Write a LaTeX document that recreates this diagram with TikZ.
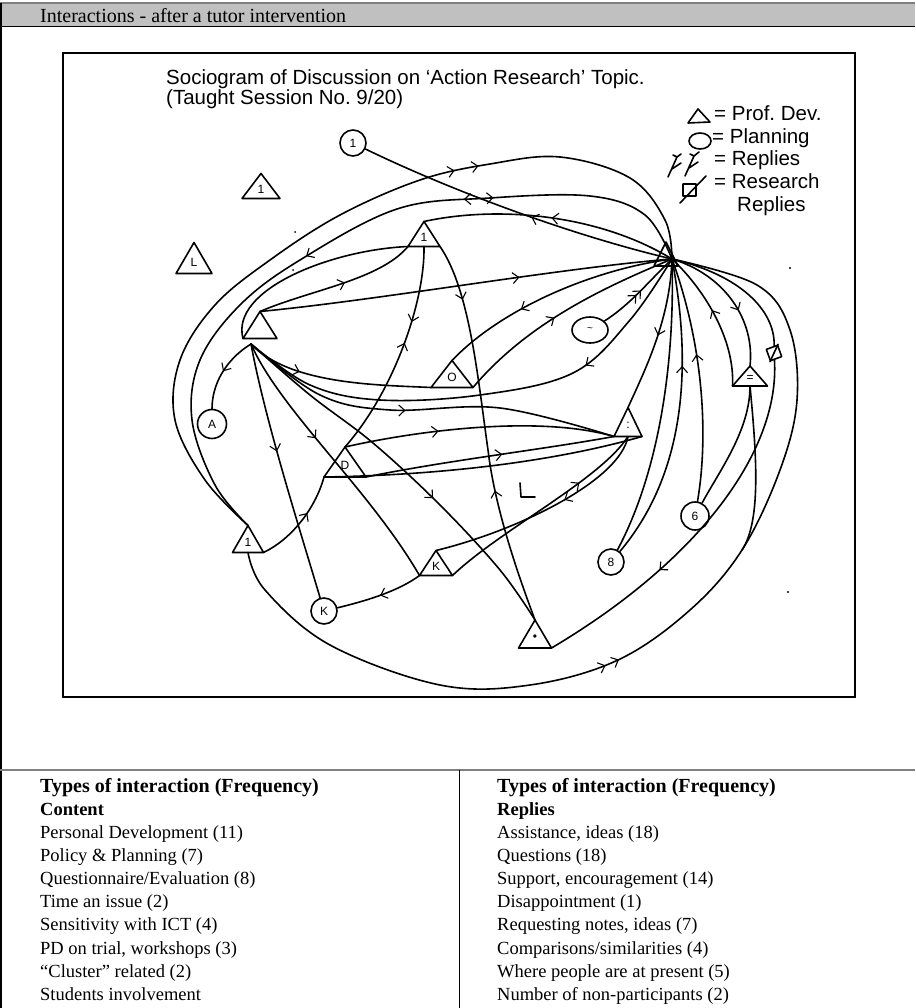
\documentclass[tikz,border=0pt]{standalone}
\usepackage{fontspec}
\setmainfont{Liberation Serif}
\newfontfamily\sansf{Liberation Sans}
\usetikzlibrary{shapes.geometric,arrows.meta,decorations.markings}

\definecolor{band}{HTML}{C0C0C0}
\definecolor{rule}{HTML}{808080}

\tikzset{
  pen/.style={line width=1.6pt,line cap=round,line join=round},
  fwd/.style={postaction={decorate,decoration={markings,mark=at position #1 with {\arrow[line width=1.1pt]{Straight Barb[length=6pt,width=11pt]}}}}},
  bwd/.style={postaction={decorate,decoration={markings,mark=at position #1 with {\arrowreversed[line width=1.1pt]{Straight Barb[length=6pt,width=11pt]}}}}},
  plan/.style={draw,pen,circle,minimum size=#1,inner sep=0pt,font=\sansf\fontsize{12}{12}\selectfont},
  plan/.default=26,
  cell/.style={anchor=base west,inner sep=0pt,font=\fontsize{18.5}{18.5}\selectfont},
  head/.style={cell,font=\fontsize{20}{20}\selectfont\bfseries},
  sub/.style={cell,font=\fontsize{18.5}{18.5}\selectfont\bfseries},
  soc/.style={anchor=base west,inner sep=0pt,font=\sansf\fontsize{20.5}{20.5}\selectfont},
}

% triangle: name, centre, [label], [width], [height]
\NewDocumentCommand{\pdtri}{mmO{}O{34}O{28}}{%
\begin{scope}[shift={(#2)}]
\draw[pen] (0,{-#5/2}) coordinate (#1-a) -- ({#4/2},{#5/2}) coordinate (#1-r)
  -- ({-#4/2},{#5/2}) coordinate (#1-l) -- cycle;
\coordinate (#1-b) at (0,{#5/2});
\node[inner sep=0pt,font=\sansf\fontsize{12}{12}\selectfont] (#1) at (0,{#5/8}) {#3};
\end{scope}%
}

\begin{document}
\begin{tikzpicture}[x=1pt,y=-1pt]
\useasboundingbox (0,0) rectangle (915,1008);

% frame and table
\fill[band] (0,3) rectangle (915,27);
\draw[rule,line width=1.2pt] (0,3) -- (915,3);
\draw[line width=1pt] (0,27) -- (915,27);
\draw[line width=1.2pt] (1,3) -- (1,1008);
\node[anchor=base west,inner sep=0pt,font=\fontsize{20}{20}\selectfont] (title) at (40,23) {Interactions - after a tutor intervention};
\draw[rule,line width=2pt] (0,770) -- (915,770);
\draw[line width=1pt] (459,770) -- (459,1008);

\node[head] (hl) at (40,792) {Types of interaction (Frequency)};
\node[sub] (sl) at (40,815) {Content};
\node[head] (hr) at (497,792) {Types of interaction (Frequency)};
\node[sub] (sr) at (497,815) {Replies};
\foreach \txt [count=\i] in {Personal Development (11),Policy \& Planning (7),
  Questionnaire/Evaluation (8),Time an issue (2),Sensitivity with ICT (4),
  {PD on trial, workshops (3)},“Cluster” related (2),Students involvement}
  \node[cell] (l\i) at (40,{838+23.2*(\i-1)}) {\txt};
\foreach \txt [count=\i] in {{Assistance, ideas (18)},Questions (18),
  {Support, encouragement (14)},Disappointment (1),{Requesting notes, ideas (7)},
  Comparisons/similarities (4),Where people are at present (5),
  Number of non-participants (2)}
  \node[cell] (r\i) at (497,{838+23.2*(\i-1)}) {\txt};

% sociogram
\draw[line width=1.6pt] (63,53) rectangle (855,697);
\node[soc] (st1) at (166,85) {Sociogram of Discussion on ‘Action Research’ Topic.};
\node[soc] (st2) at (166,105) {(Taught Session No.\ 9/20)};

\draw[pen] (688,123) -- (710,122) -- (698,109) -- cycle;
\node[soc] (k1) at (714,121) {= Prof.\ Dev.};
\draw[pen] (700,141) ellipse (11 and 8);
\node[soc] (k2) at (712,143.5) {= Planning};
\draw[pen] (668,177) -- (677,157) (672,169) -- (681,163) (677,157) -- (673,155) (677,157) -- (681,154)
  (685,176) -- (694,156) (689,168) -- (698,162) (694,156) -- (690,154) (694,156) -- (699,152);
\node[soc] (k3) at (714,166) {= Replies};
\draw[pen] (683,184) rectangle (696,196) (680,203) -- (706,176);
\node[soc] (k4) at (714,189) {= Research};
\node[soc] (k5) at (737,212) {Replies};

\pdtri{t1}{261,186}[1][38][25]
\pdtri{t2}{194,258}[L][36][31]
\pdtri{t3}{424,234}[1][32][25]
\pdtri{hub}{666,254}[][24][24]
\pdtri{t4}{260,325}[][34][27]
\pdtri{tQ}{452,374}[O][42][27]
\pdtri{tD}{345,462}[D][42][30]
\pdtri{tBL}{248,539}[1][31][27]
\pdtri{tK}{436,563}[K][33][25]
\pdtri{tB}{535,634}[\textbullet][33][28]
\pdtri{tR}{750,376}[=][35][20]
\pdtri{tM}{628,422}[:][28][29]
\coordinate (hubx) at (672,259);
\coordinate (t4x) at (251,344);
\coordinate (loopj) at (742,550);

\node[plan] (c1) at (353,143) {1};
\node[plan=29] (cA) at (212,424) {A};
\node[draw,pen,ellipse,minimum width=36,minimum height=26,inner sep=0pt,font=\sansf] (cP) at (590,330) {\textasciitilde};
\node[plan=28] (c6) at (695,516) {6};
\node[plan] (c8) at (611,562) {8};
\node[plan] (cK) at (324,611) {K};
\node[draw,pen,minimum size=12,inner sep=0pt,rotate=20] (sq) at (774,353) {};
\draw[pen] (sq.south west) -- (sq.north east);

% spokes from the hub
\draw[pen,bwd=.55] (c1) .. controls (450,190) and (570,235) .. (hubx);
\draw[pen,fwd=.66,fwd=.69] plot[smooth,tension=.6] coordinates {(tBL-a) (205,480) (175,420) (180,360) (215,305) (270,260) (340,215) (420,180) (490,164) (560,157) (630,178) (665,220) (hubx)};
\draw[pen,bwd=.45,bwd=.68,fwd=.72] plot[smooth,tension=.6] coordinates {(tBL-a) (215,485) (192,420) (200,360) (240,305) (300,260) (397,209) (490,198) (590,196) (645,215) (hubx)};
\draw[pen,bwd=.5] (t3-a) .. controls (500,205) and (600,215) .. (hubx);
\draw[pen,fwd=.63] (t4-a) .. controls (380,300) and (560,268) .. (hubx);
\draw[pen,fwd=.45,fwd=.52] (cP) .. controls (630,305) and (650,280) .. (hubx);
\draw[pen,bwd=.35] (tQ-a) .. controls (500,310) and (590,270) .. (hubx);
\draw[pen,fwd=.45] (tQ-r) .. controls (530,320) and (610,285) .. (hubx);
\draw[pen,fwd=.5] (hubx) .. controls (670,320) and (645,370) .. (tM-a);
\draw[pen] (hubx) .. controls (675,360) and (660,470) .. (c8);
\draw[pen,bwd=.35] (hubx) .. controls (695,380) and (680,480) .. (c8);
\draw[pen,bwd=.4] (hubx) .. controls (705,350) and (708,440) .. (c6);
\draw[pen,bwd=.45] (hubx) .. controls (705,290) and (735,340) .. (tR-l);
\draw[pen,fwd=.6] (hubx) .. controls (725,275) and (755,320) .. (tR-a);
\draw[pen] (hubx) .. controls (740,275) and (775,310) .. (sq);
\draw[pen,fwd=.425,fwd=.44] plot[smooth,tension=.6] coordinates {(tBL-b) (265,590) (330,645) (440,685) (530,685) (618,660) (690,610) (loopj) (780,470) (797,400) (790,330) (757,285) (hubx)};
\draw[pen,fwd=.65] (sq) .. controls (780,450) and (700,560) .. (tB-r);
\draw[pen] (c6) .. controls (720,470) and (750,430) .. (tR-b);
\draw[pen] (tR-b) .. controls (756,450) and (762,520) .. (loopj);

% spokes from the left hub
\draw[pen,fwd=.55] (t4-a) .. controls (310,290) and (380,280) .. (t3-l);
\draw[pen] (t4-l) .. controls (230,290) and (330,250) .. (t3-l);
\draw[pen,fwd=.3] (t4x) .. controls (290,385) and (380,385) .. (tQ-l);
\draw[pen,bwd=.72] plot[smooth,tension=.6] coordinates {(t4x) (310,385) (380,400) (480,395) (573,373) (630,320) (hubx)};
\draw[pen,fwd=.45] plot[smooth,tension=.6] coordinates {(t4x) (320,395) (390,410) (500,408) (tM-l)};
\draw[pen,fwd=.6] plot[smooth,tension=.6] coordinates {(t4x) (310,395) (373,443) (440,505) (500,570) (tB-a)};
\draw[pen,fwd=.42] (t4x) .. controls (265,420) and (300,530) .. (cK);
\draw[pen,fwd=.4] (t4x) .. controls (280,410) and (370,490) .. (tK-l);
\draw[pen,fwd=.5] (t4x) .. controls (225,360) and (212,385) .. (cA);

% the rest
\draw[pen,fwd=.6] (tBL-r) .. controls (290,540) and (315,510) .. (tD-l);
\draw[pen,fwd=.35,bwd=.45] (t3-b) .. controls (425,300) and (395,390) .. (tD-a);
\draw[pen,fwd=.15,bwd=.65] (t3-r) .. controls (470,290) and (478,380) .. (488,450) .. controls (495,510) and (520,580) .. (tB-a);
\draw[pen,fwd=.35] (tD-a) .. controls (420,430) and (540,415) .. (tM-l);
\draw[pen,fwd=.55] (tD-r) .. controls (450,460) and (540,450) .. (tM-l);
\draw[pen] (tD-l) .. controls (450,475) and (560,460) .. (tM-r);
\draw[pen,fwd=.7] (tK-r) .. controls (500,530) and (600,480) .. (tM-b);
\draw[pen,fwd=.4] (tM-b) .. controls (620,480) and (520,530) .. (tK-a);
\draw[pen,fwd=.5] (tK-l) .. controls (400,590) and (370,600) .. (cK);
\draw[pen] (520,483) -- (521,497) -- (535,497);

\fill (790,268) circle (1.2) (788,592) circle (1.2) (295,232) circle (1) (293,270) circle (1);
\end{tikzpicture}
\end{document}
